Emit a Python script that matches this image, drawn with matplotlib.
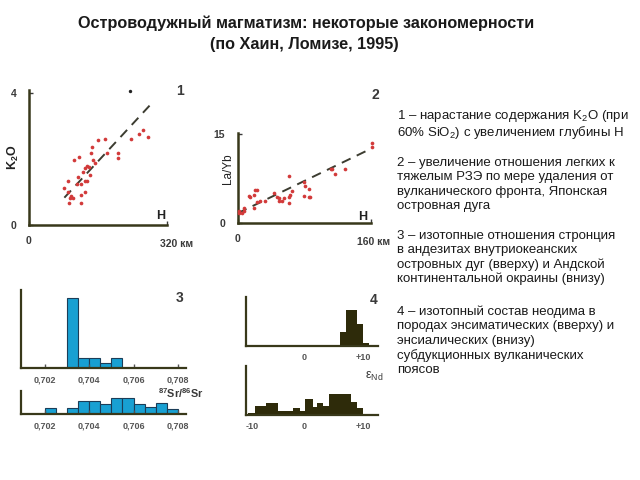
import numpy as np
import matplotlib.pyplot as plt

plt.rcParams['font.family'] = ['Liberation Sans', 'DejaVu Sans']
plt.rcParams['mathtext.fontset'] = 'custom'
plt.rcParams['mathtext.rm'] = 'Liberation Sans'
plt.rcParams['mathtext.default'] = 'regular'

# Panel 1: K2O (at 60% SiO2) vs depth H, km
h1 = [159, 176, 237, 255, 265, 275, 145, 144, 182, 206, 207, 117, 105, 149, 153,
      135, 138, 131, 126, 114, 141, 90, 134, 130, 111, 120, 82, 90, 131, 97, 103,
      95, 121, 93, 121]
k2o = [2.58, 2.61, 2.61, 2.77, 2.88, 2.66, 2.37, 2.19, 2.19, 2.19, 2.04, 2.07, 1.97,
       1.97, 1.87, 1.79, 1.77, 1.72, 1.60, 1.46, 1.52, 1.33, 1.34, 1.33, 1.24, 1.26,
       1.11, 1.01, 0.99, 0.88, 0.83, 0.81, 0.91, 0.68, 0.68]
h1_extra = [234]
k2o_extra = [4.06]
h1_trend = [82, 282]
k2o_trend = [0.83, 3.66]

# Panel 2: La/Yb vs distance from volcanic front, km
h2 = [161, 161, 113, 117, 129, 112, 61, 80, 81, 86, 80, 86, 65, 63, 61, 61, 55, 53,
      50, 49, 47, 43, 23, 20, 15, 27, 33, 20, 23, 7, 7, 2, 5, 1, 13, 21, 87]
layb = [13.6, 12.9, 9.1, 8.3, 9.1, 9.1, 8.0, 6.9, 6.3, 5.8, 4.6, 4.5, 5.4, 4.8, 4.5,
        3.4, 4.2, 3.8, 4.2, 3.8, 4.5, 5.1, 5.6, 4.8, 4.5, 3.7, 3.7, 2.5, 3.6, 2.5, 2.1,
        2.1, 1.7, 1.7, 4.6, 5.6, 4.5]
h2_trend = [0, 160]
layb_trend = [1.7, 12.6]

# Panel 3: 87Sr/86Sr histograms (oceanic arcs / Andes)
sr_edges_top = [0.7030, 0.7035, 0.7040, 0.7045, 0.7050, 0.7055]
sr_counts_top = [14, 2, 2, 1, 2]
sr_edges_bot = [0.7020, 0.7025, 0.7030, 0.7035, 0.7040, 0.7045, 0.7050, 0.7055,
                0.7060, 0.7065, 0.7070, 0.7075, 0.7080]
sr_counts_bot = [2, 0, 2, 4, 4, 3.2, 4.8, 4.8, 3.2, 2.3, 3.3, 1.6]
sr_ticks = [0.702, 0.704, 0.706, 0.708]
sr_labels = ['0,702', '0,704', '0,706', '0,708']

# Panel 4: eps Nd histograms (ensimatic / ensialic)
nd_edges_top = [6, 7, 8, 9, 10, 11]
nd_counts_top = [6, 15.5, 15.5, 9.5, 1]
nd_edges_bot = [-9.6, -8.5, -6.5, -4.5, -1.9, -0.7, 0.1, 1.4, 2.1, 3.1, 4.1, 7.9, 8.9, 9.9]
nd_counts_bot = [0.7, 3.9, 5.3, 1.7, 2.9, 1.7, 6.7, 3.6, 5.3, 3.9, 9, 5.7, 2.9]

axis_col = '#38381a'
lab_col = '#3a3a3a'
red = '#d23a3a'
blue = '#18a0d2'
olive = '#2e2b0a'

fig = plt.figure(figsize=(6.4, 4.8), dpi=100)


def px_axes(l, t, r, b):
    return fig.add_axes([l / 640, 1 - b / 480, (r - l) / 640, (b - t) / 480])


def l_axes(ax, lw=1.8):
    for s in ['top', 'right']:
        ax.spines[s].set_visible(False)
    for s in ['left', 'bottom']:
        ax.spines[s].set_color(axis_col)
        ax.spines[s].set_linewidth(lw)
    ax.patch.set_alpha(0)
    ax.tick_params(colors=lab_col, labelsize=7.5, direction='in', length=3, width=1)
    for lab in ax.get_xticklabels() + ax.get_yticklabels():
        lab.set_fontweight('bold')


# title
fig.text(0.479, 1 - 23 / 480, 'Островодужный магматизм: некоторые закономерности',
         ha='center', va='center', fontsize=11.7, fontweight='bold', color='#1a1a1a')
fig.text(0.475, 1 - 45 / 480, '(по Хаин, Ломизе, 1995)',
         ha='center', va='center', fontsize=11.7, fontweight='bold', color='#1a1a1a')

# ---- panel 1
ax1 = px_axes(29, 90, 167, 225)
ax1.scatter(h1, k2o, s=7, color=red, linewidths=0, zorder=3, clip_on=False)
ax1.scatter(h1_extra, k2o_extra, s=6, color='#222', linewidths=0, zorder=3, clip_on=False)
ax1.plot(h1_trend, k2o_trend, color='#3c3c30', lw=1.4, dashes=(5, 3.5))
ax1.set_xlim(0, 320)
ax1.set_ylim(0, 4.1)
ax1.set_xticks([0, 320], ['0', ''])
ax1.set_yticks([0, 4], ['0', '4'])
l_axes(ax1)
ax1.tick_params(axis='x', pad=8)
ax1.tick_params(axis='y', pad=9)
ax1.annotate('320 км', xy=(320, 0), xytext=(7, -10), textcoords='offset points',
             ha='center', va='top', fontsize=7.5, fontweight='bold', color=lab_col)
ax1.text(0.955, 0.02, 'Н', transform=ax1.transAxes, ha='center', va='bottom',
         fontsize=9, fontweight='bold', color='#222')
ax1.text(-0.11, 0.5, 'K$_2$O', transform=ax1.transAxes, rotation=90, ha='center',
         va='center', fontsize=9, fontweight='bold', color='#222')
fig.text(180 / 640, 1 - 91 / 480, '1', ha='center', va='center', fontsize=10,
         fontweight='bold', color=lab_col)

# ---- panel 2
ax2 = px_axes(237.7, 132.7, 371, 223.3)
ax2.scatter(h2, layb, s=7, color=red, linewidths=0, zorder=3, clip_on=False)
ax2.plot(h2_trend, layb_trend, color='#3c3c30', lw=1.4, dashes=(5, 3.5))
ax2.set_xlim(0, 160)
ax2.set_ylim(0, 15.3)
ax2.set_xticks([0, 160], ['0', ''])
ax2.set_yticks([0, 15], ['0', '15'])
l_axes(ax2)
ax2.tick_params(axis='x', pad=8)
ax2.tick_params(axis='y', pad=9)
ax2.annotate('160 км', xy=(160, 0), xytext=(2, -10), textcoords='offset points',
             ha='center', va='top', fontsize=7.5, fontweight='bold', color=lab_col)
ax2.text(0.94, 0.0, 'Н', transform=ax2.transAxes, ha='center', va='bottom',
         fontsize=9, fontweight='bold', color='#222')
ax2.text(-0.07, 0.6, 'La/Yb', transform=ax2.transAxes, rotation=90, ha='center',
         va='center', fontsize=8.5, color='#222')
fig.text(375 / 640, 1 - 95 / 480, '2', ha='center', va='center', fontsize=10,
         fontweight='bold', color=lab_col)

# ---- panel 3
ax3a = px_axes(20.7, 290, 186, 368.3)
ax3a.bar(sr_edges_top[:-1], sr_counts_top, width=np.diff(sr_edges_top), align='edge',
         facecolor=blue, edgecolor='#1b3d58', linewidth=0.8)
ax3a.set_xlim(0.7009, 0.70837)
ax3a.set_ylim(0, 15.7)
ax3a.set_xticks(sr_ticks, sr_labels)
ax3a.set_yticks([])
l_axes(ax3a, lw=1.6)
ax3a.tick_params(axis='x', labelsize=6.5, pad=5, colors='#555')

ax3b = px_axes(20.7, 391, 186, 414.3)
ax3b.bar(sr_edges_bot[:-1], sr_counts_bot, width=np.diff(sr_edges_bot), align='edge',
         facecolor=blue, edgecolor='#1b3d58', linewidth=0.8)
ax3b.set_xlim(0.7009, 0.70837)
ax3b.set_ylim(0, 7.0)
ax3b.set_xticks(sr_ticks, sr_labels)
ax3b.set_yticks([])
l_axes(ax3b, lw=1.6)
ax3b.tick_params(axis='x', labelsize=6.5, pad=5, colors='#555')
fig.text(181 / 640, 1 - 393 / 480, '$^{87}$Sr/$^{86}$Sr', ha='center', va='center',
         fontsize=7.8, fontweight='bold', color=lab_col)
fig.text(180 / 640, 1 - 298 / 480, '3', ha='center', va='center', fontsize=10,
         fontweight='bold', color=lab_col)

# ---- panel 4
ax4a = px_axes(245.7, 296.7, 377.7, 345.7)
ax4a.bar(nd_edges_top[:-1], nd_counts_top, width=np.diff(nd_edges_top), align='edge',
         color=olive, linewidth=0)
ax4a.set_xlim(-9.93, 12.44)
ax4a.set_ylim(0, 21)
ax4a.set_xticks([0, 10], ['0', '+10'])
ax4a.set_yticks([])
l_axes(ax4a, lw=1.6)
ax4a.tick_params(axis='x', labelsize=6.5, pad=5, length=0, colors='#555')

ax4b = px_axes(245.7, 366, 377.7, 415)
ax4b.bar(nd_edges_bot[:-1], nd_counts_bot, width=np.diff(nd_edges_bot), align='edge',
         color=olive, linewidth=0)
ax4b.set_xlim(-9.93, 12.44)
ax4b.set_ylim(0, 21)
ax4b.set_xticks([-10, 0, 10], ['-10', '0', '+10'])
ax4b.set_yticks([])
l_axes(ax4b, lw=1.6)
ax4b.tick_params(axis='x', labelsize=6.5, pad=5, length=0, colors='#555')
ax4b.get_xticklabels()[0].set_ha('left')
fig.text(374 / 640, 1 - 376 / 480, r'$\varepsilon_{Nd}$', ha='center', va='center',
         fontsize=9, color=lab_col)
fig.text(374 / 640, 1 - 300 / 480, '4', ha='center', va='center', fontsize=10,
         fontweight='bold', color=lab_col)

# ---- explanation text
paras = [
    (110, ['1 – нарастание содержания K$_2$O (при',
           '60% SiO$_2$) с увеличением глубины Н']),
    (157, ['2 – увеличение отношения легких к',
           'тяжелым РЗЭ по мере удаления от',
           'вулканического фронта, Японская',
           'островная дуга']),
    (230, ['3 – изотопные отношения стронция',
           'в андезитах внутриокеанских',
           'островных дуг (вверху) и Андской',
           'континентальной окраины (внизу)']),
    (306, ['4 – изотопный состав неодима в',
           'породах энсиматических (вверху) и',
           'энсиалических (внизу)',
           'субдукционных вулканических',
           'поясов']),
]
for top, lines in paras:
    step = 16.5 if top == 110 else 14.4
    for i, line in enumerate(lines):
        fig.text(397 / 640, 1 - (top + 6 + i * step) / 480, line, ha='left',
                 va='center', fontsize=9.5, color='#1a1a1a')

fig.savefig('out.png', dpi=100)
